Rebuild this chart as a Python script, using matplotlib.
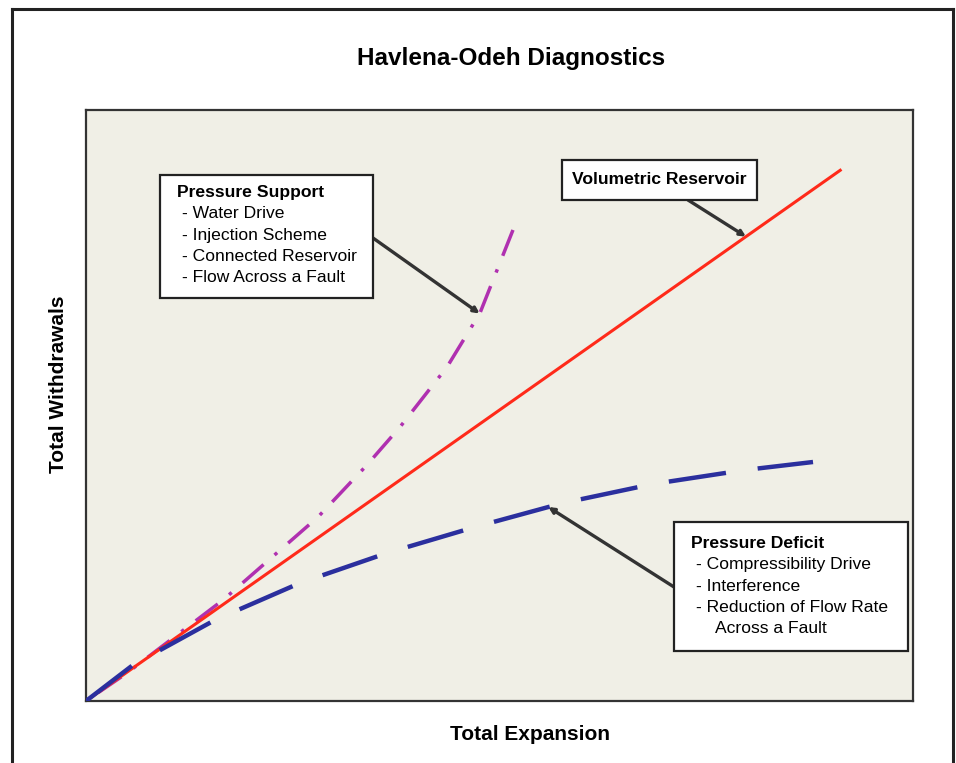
import numpy as np
import matplotlib
matplotlib.use("Agg")
import matplotlib.pyplot as plt
from matplotlib.patches import Rectangle
from matplotlib.lines import Line2D

plt.rcParams["font.family"] = ["Liberation Sans", "DejaVu Sans"]

# Volumetric reservoir - straight line
vol_x = [0, 91.2]
vol_y = [0, 89.8]

# Pressure support - curves upward
sup_x = [0, 4.96, 16.57, 28.05, 33.86, 37.97, 43.65, 47.64, 51.63]
sup_y = [0, 4.74, 17.09, 31.13, 39.76, 46.36, 56.51, 65.65, 79.70]

# Pressure deficit - bends down
def_x = [0, 5.68, 15.60, 25.88, 36.40, 47.04, 57.68, 68.56, 79.69, 87.91]
def_y = [0, 6.09, 13.71, 19.97, 25.04, 29.44, 33.50, 36.72, 39.09, 40.44]

support_items = ["- Water Drive", "- Injection Scheme",
                 "- Connected Reservoir", "- Flow Across a Fault"]
deficit_items = ["- Compressibility Drive", "- Interference",
                 "- Reduction of Flow Rate"]

W, H = 956, 763


def fx(px):
    return px / W


def fy(py):
    return 1 - py / H


fig = plt.figure(figsize=(W / 100, H / 100), dpi=100)
fig.patch.set_facecolor("white")

ax = fig.add_axes([fx(86), fy(701), (913 - 86) / W, (701 - 110) / H])
ax.set_facecolor("#f0efe6")
ax.set_xlim(0, 100)
ax.set_ylim(0, 100)
ax.set_xticks([])
ax.set_yticks([])
for s in ax.spines.values():
    s.set_color("#333333")
    s.set_linewidth(1.6)

ax.plot(vol_x, vol_y, color="#ff2a1a", lw=2.2, zorder=3)
# drawn from the top end so the pattern starts with a dash there
ax.plot(sup_x[::-1], sup_y[::-1], color="#b030b0", lw=2.5,
        dashes=(8, 4.2, 1, 4.2), zorder=2)
ax.plot(def_x, def_y, color="#2b2f9e", lw=3.2, dashes=(13, 7.2), zorder=4)

# outer frame
frame_kw = dict(color="#222222", lw=2.2, transform=fig.transFigure)
fig.add_artist(Line2D([fx(12), fx(12)], [fy(9), 0], **frame_kw))
fig.add_artist(Line2D([fx(12), fx(953)], [fy(9), fy(9)], **frame_kw))
fig.add_artist(Line2D([fx(953), fx(953)], [fy(9), 0], **frame_kw))

fig.text(fx(511), fy(58), "Havlena-Odeh Diagnostics", fontsize=17.5,
         fontweight="bold", ha="center", va="center")
fig.text(fx(530), fy(735), "Total Expansion", fontsize=15,
         fontweight="bold", ha="center", va="center")
fig.text(fx(59), fy(384), "Total Withdrawals", fontsize=15,
         fontweight="bold", ha="center", va="center", rotation=90)


def box(x0, y0, x1, y1):
    fig.add_artist(Rectangle((fx(x0), fy(y1)), (x1 - x0) / W, (y1 - y0) / H,
                             transform=fig.transFigure, facecolor="white",
                             edgecolor="#222222", lw=1.6, zorder=5))


def arrow(xd, yd, px, py):
    ax.annotate("", xy=(xd, yd), xycoords="data",
                xytext=(fx(px), fy(py)), textcoords="figure fraction",
                arrowprops=dict(arrowstyle="-|>", color="#333333", lw=2.4,
                                mutation_scale=8, shrinkA=0, shrinkB=0),
                annotation_clip=False, zorder=6)


fs = 12.6
# Pressure support box
box(160, 175, 373, 298)
fig.text(fx(177), fy(193), "Pressure Support", fontsize=fs, fontweight="bold",
         va="center", zorder=6)
for i, t in enumerate(support_items):
    fig.text(fx(182), fy(214 + 21.3 * i), t, fontsize=fs, va="center", zorder=6)
xs = 47.6
arrow(xs, np.interp(xs, sup_x, sup_y), 373, 238)

# Volumetric box
box(562, 160, 757, 200)
fig.text(fx(659.5), fy(180), "Volumetric Reservoir", fontsize=fs,
         fontweight="bold", ha="center", va="center", zorder=6)
xv = 79.8
arrow(xv, np.interp(xv, vol_x, vol_y), 688, 200)

# Pressure deficit box
box(674, 522, 908, 651)
fig.text(fx(691), fy(543), "Pressure Deficit", fontsize=fs, fontweight="bold",
         va="center", zorder=6)
for i, t in enumerate(deficit_items):
    fig.text(fx(696), fy(565 + 21.3 * i), t, fontsize=fs, va="center", zorder=6)
fig.text(fx(715), fy(565 + 21.3 * 3), "Across a Fault", fontsize=fs,
         va="center", zorder=6)
xd = 55.9
arrow(xd, np.interp(xd, def_x, def_y), 674, 587)

fig.savefig("out.png", dpi=100)
